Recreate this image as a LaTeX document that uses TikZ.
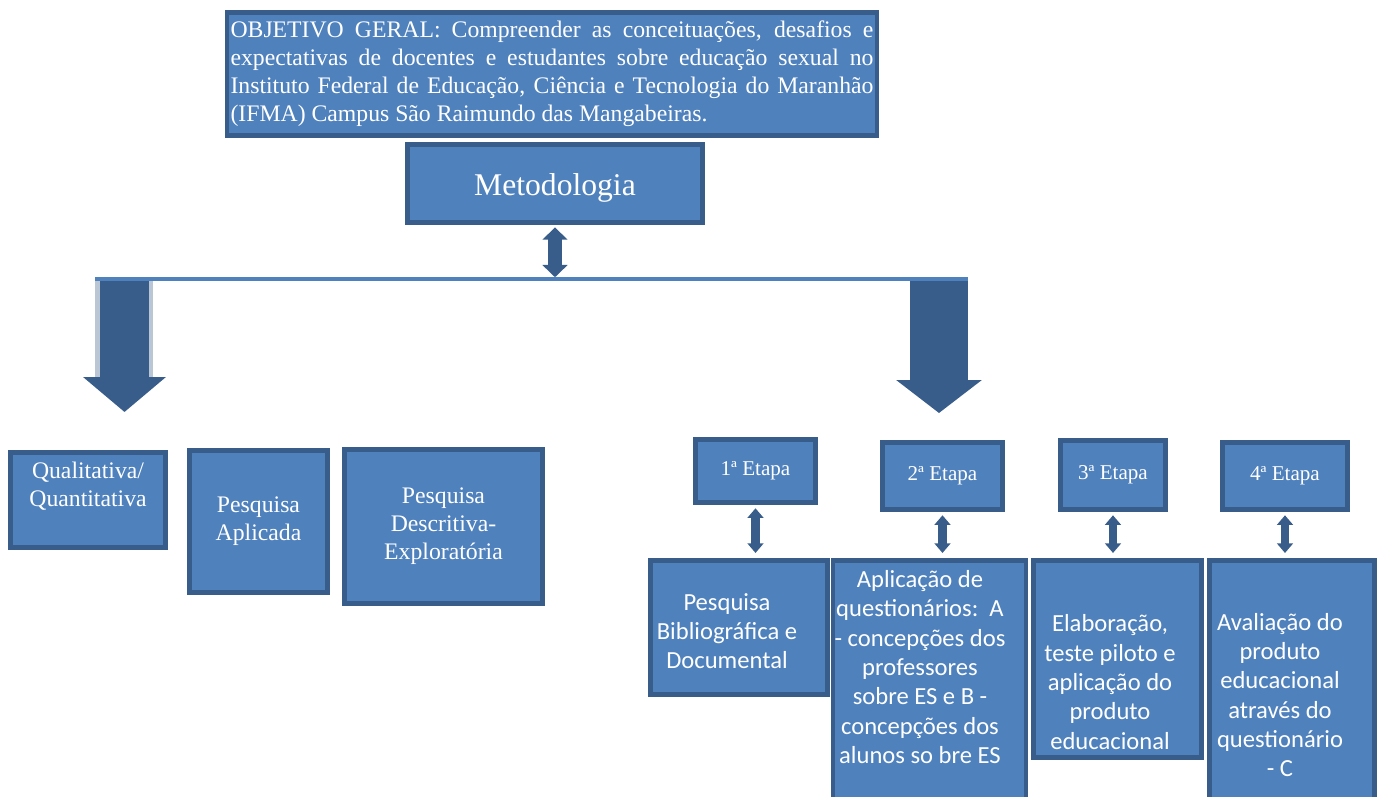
\documentclass[tikz,border=0pt]{standalone}
\usepackage{fontspec}
\setmainfont{Liberation Serif}
\newfontfamily\calibri{Carlito}
\usetikzlibrary{arrows.meta}
\definecolor{azul}{HTML}{4F81BD}
\definecolor{borda}{HTML}{385D8A}
\definecolor{sombra}{HTML}{BAC6D4}

\begin{document}
\begin{tikzpicture}[x=0.02cm,y=-0.02cm,
	caixa/.style={draw=borda, fill=azul, line width=2.6pt, text=white, align=center, inner sep=0pt},
	serif/.style={font=\fontsize{13.5}{16}\selectfont},
	rotulo/.style={text=white, align=center, inner sep=0pt, font=\calibri\fontsize{14}{16.7}\selectfont},
	etapa/.style={caixa, font=\fontsize{12}{14}\selectfont},
	seta/.style={draw=borda, line width=4.8pt, {Triangle[length=5.5pt,width=9pt]}-{Triangle[length=5.5pt,width=9pt]}, shorten <=2pt, shorten >=3pt}]
	\useasboundingbox (0,0) rectangle (1384,796);

	% objetivo e metodologia
	\draw (552,74) node[caixa, minimum width=13cm, minimum height=2.46cm, text width=12.86cm, align=justify, font=\fontsize{13.5}{15.9}\selectfont] (obj) {OBJETIVO GERAL: Compreender as conceituações, desafios e\linebreak expectativas de docentes e estudantes sobre educação sexual no\linebreak Instituto Federal de Educação, Ciência e Tecnologia do Maranhão\linebreak (IFMA) Campus São Raimundo das Mangabeiras.};
	\draw (555,183.5) node[caixa, minimum width=5.9cm, minimum height=1.56cm, font=\fontsize{18}{20}\selectfont] (met) {\raisebox{-2.5pt}[\height][\depth]{Metodologia}};

	% linha e setas grandes
	\coordinate (linhaE) at (95,279);
	\coordinate (linhaD) at (968,279);
	\coordinate (linhaM) at (555,279);
	\coordinate (sE) at (124.5,278);
	\coordinate (sEfim) at (124.5,412);
	\coordinate (sD) at (939,279);
	\coordinate (sDfim) at (939,413);
	\fill[sombra] (95,278) rectangle (153,377);
	\draw[borda, line width=0.98cm, -{Triangle[length=0.7cm,width=1.62cm]}] (sE) -- (sEfim);
	\draw[borda, line width=1.16cm, -{Triangle[length=0.66cm,width=1.68cm]}] (sD) -- (sDfim);
	\draw[azul, line width=1.8pt] (linhaE) -- (linhaD);
	\draw[draw=borda, line width=8.5pt, {Triangle[length=7pt,width=14pt]}-{Triangle[length=7pt,width=14pt]}, shorten <=1.5pt, shorten >=1pt] (met.south) -- (linhaM);

	% lado esquerdo
	\draw (88,500) node[caixa, minimum width=3.1cm, minimum height=1.9cm] (qual) {};
	\draw (88,486) node[text=white, align=center, inner sep=0pt, serif] (qualt) {Qualitativa/\\Quantitativa};
	\draw (258.5,521.5) node[caixa, serif, minimum width=2.76cm, minimum height=2.84cm] (aplic) {Pesquisa\\Aplicada};
	\draw (443.5,526.5) node[caixa, serif, minimum width=3.96cm, minimum height=3.08cm] (descr) {Pesquisa\\Descritiva-\\Exploratória};

	% etapas
	\draw (755.5,471) node[etapa, minimum width=2.4cm, minimum height=1.26cm] (e1) {1ª Etapa};
	\draw (942.5,476) node[etapa, minimum width=2.4cm, minimum height=1.34cm] (e2) {2ª Etapa};
	\draw (1113,475) node[etapa, minimum width=2.1cm, minimum height=1.38cm] (e3) {3ª Etapa};
	\draw (1285,476) node[etapa, minimum width=2.5cm, minimum height=1.34cm] (e4) {4ª Etapa};

	\draw (739,627.5) node[caixa, minimum width=3.54cm, minimum height=2.68cm] (b1) {};
	\draw (929.5,694) node[caixa, minimum width=3.86cm, minimum height=5.34cm] (b2) {};
	\draw (1117.5,659) node[caixa, minimum width=3.36cm, minimum height=3.94cm] (b3) {};
	\draw (1292,694) node[caixa, minimum width=3.3cm, minimum height=5.34cm] (b4) {};

	\draw (727,631) node[rotulo] (t1) {Pesquisa\\Bibliográfica e\\Documental};
	\draw (920,667) node[rotulo] (t2) {Aplicação de\\questionários:\ \ A\\- concepções dos\\professores\\sobre ES e B -\\concepções dos\\alunos so bre ES};
	\draw (1110,682) node[rotulo] (t3) {Elaboração,\\teste piloto e\\aplicação do\\produto\\educacional};
	\draw (1280,695) node[rotulo] (t4) {Avaliação do\\produto\\educacional\\através do\\questionário\\- C};

	\draw[seta] (e1.south) -- (e1.south |- b1.north);
	\draw[seta] (e2.south) -- (e2.south |- b2.north);
	\draw[seta] (e3.south) -- (e3.south |- b3.north);
	\draw[seta] (e4.south) -- (e4.south |- b4.north);
\end{tikzpicture}
\end{document}
